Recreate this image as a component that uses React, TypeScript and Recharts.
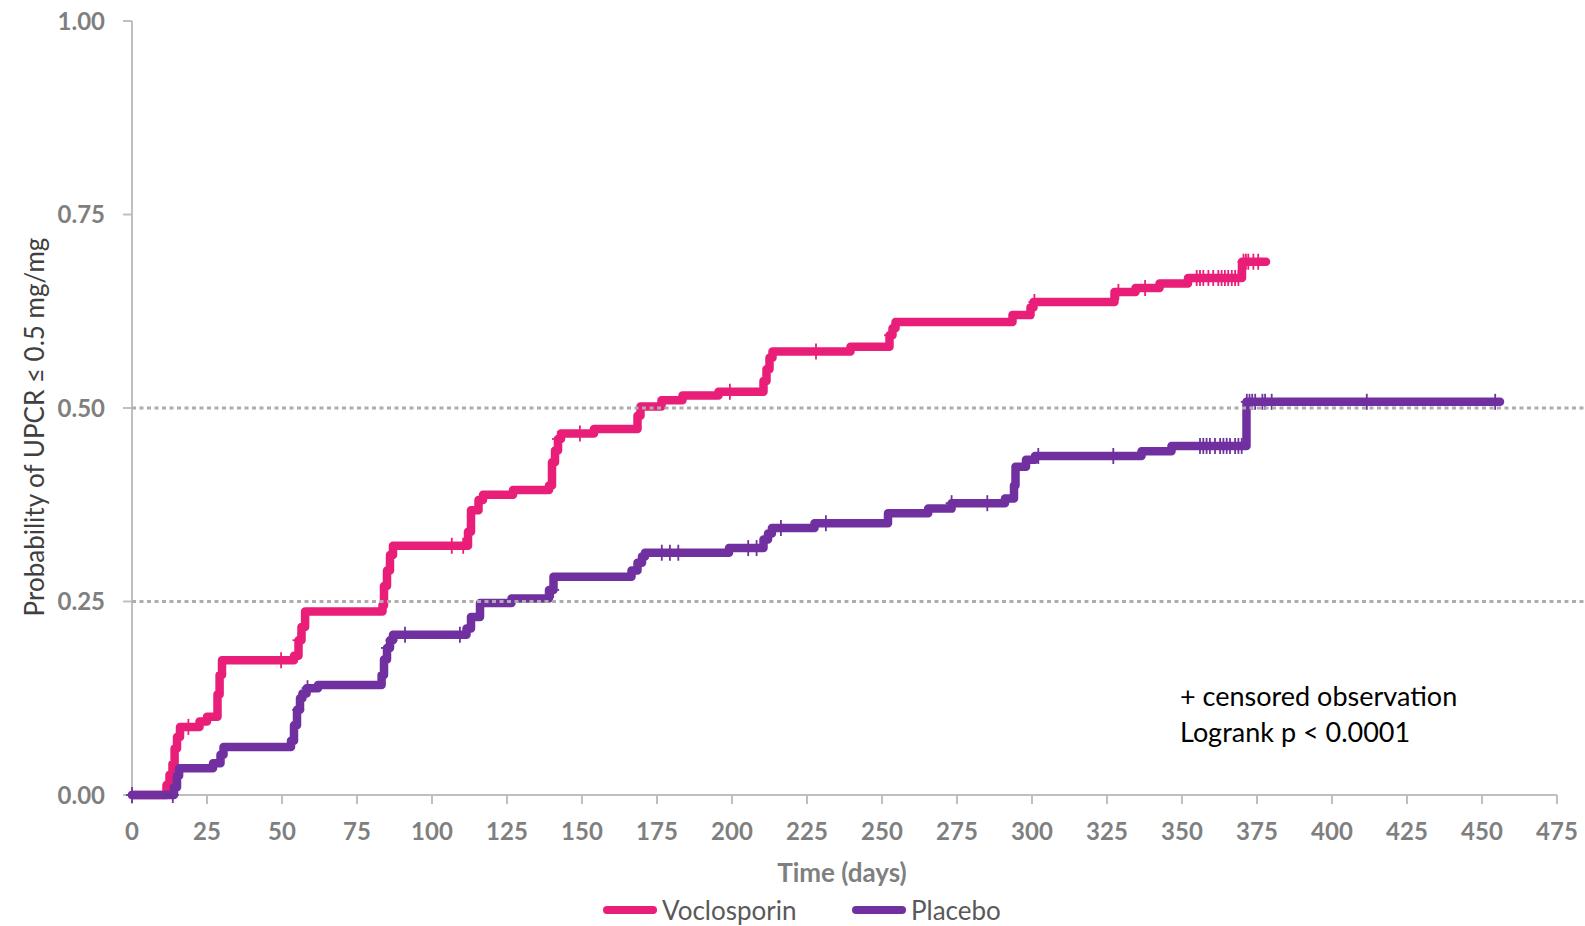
import React from 'react';
import { ComposedChart, Line, Scatter, XAxis, YAxis, ReferenceLine, Legend } from 'recharts';

// ---------- data ----------
const seriesNames = ['Voclosporin', 'Placebo'];

const voclosporinDays = [0, 11.5, 12.5, 13.5, 14.2, 15, 16, 22.5, 25, 28.5, 29.2, 30, 54, 55.5, 56.5, 57.7, 83.5, 84, 85, 86, 87, 112, 113, 115.5, 117, 127, 139, 140, 141, 142, 143, 154, 168.5, 169.5, 176.5, 183.5, 195.5, 210.5, 211.5, 212.5, 213.5, 239.5, 252.5, 253.5, 254.5, 293.5, 299.5, 300.5, 327.5, 334.5, 342.5, 352, 370, 378];
const voclosporinProb = [0, 0.013, 0.026, 0.04, 0.06, 0.075, 0.088, 0.095, 0.101, 0.13, 0.155, 0.174, 0.18, 0.2, 0.217, 0.237, 0.245, 0.27, 0.29, 0.31, 0.322, 0.34, 0.368, 0.381, 0.388, 0.394, 0.4, 0.43, 0.445, 0.46, 0.467, 0.473, 0.49, 0.502, 0.51, 0.516, 0.521, 0.535, 0.55, 0.565, 0.573, 0.579, 0.594, 0.603, 0.611, 0.62, 0.63, 0.637, 0.65, 0.655, 0.661, 0.668, 0.689, 0.689];

const placeboDays = [0, 14, 15, 15.7, 27, 29.5, 30.5, 53, 54, 55, 56, 56.8, 58.2, 62, 83.2, 84, 85, 86, 87, 111.5, 113, 116, 126.5, 139, 140.5, 166.5, 168.5, 170, 171, 199, 210.5, 212, 213.3, 227.5, 252, 265.4, 273.2, 291, 294, 294.5, 298, 301, 336.5, 346.5, 371.5, 456];
const placeboProb = [0, 0.01, 0.025, 0.0345, 0.041, 0.052, 0.062, 0.07, 0.09, 0.11, 0.125, 0.131, 0.138, 0.142, 0.155, 0.175, 0.19, 0.2, 0.207, 0.215, 0.23, 0.248, 0.254, 0.265, 0.282, 0.29, 0.3, 0.308, 0.313, 0.319, 0.33, 0.338, 0.345, 0.351, 0.364, 0.37, 0.377, 0.383, 0.4, 0.424, 0.433, 0.438, 0.444, 0.451, 0.508, 0.508];

const voclosporinCensorDays = [18.8, 49.7, 55.5, 106.6, 110.4, 142, 149.3, 199.3, 228, 252.7, 300.8, 328.8, 337.7, 354.9, 356, 357.1, 358.8, 360.4, 362.1, 363.2, 364.3, 365.4, 366.6, 367.7, 368.8, 370.5, 371.3, 372.1, 373.8, 375.4];
const placeboCensorDays = [0, 13.6, 55.4, 58.5, 85, 86.5, 91, 109.3, 140.4, 176.6, 179.3, 182.1, 205.4, 208.2, 216.3, 231.3, 273.2, 285.1, 302.1, 327.1, 356, 357.1, 358.2, 359.3, 361, 362.7, 363.8, 364.9, 366, 367.7, 368.8, 369.9, 371.6, 372.5, 373.4, 374.4, 376.8, 377.7, 379.9, 411.6, 454.4];

const xTicks = [0, 25, 50, 75, 100, 125, 150, 175, 200, 225, 250, 275, 300, 325, 350, 375, 400, 425, 450, 475];
const yTicks = [0, 0.25, 0.5, 0.75, 1];
const dottedLevels = [0.25, 0.5];

const xLabel = 'Time (days)';
const yLabel = 'Probability of UPCR ≤ 0.5 mg/mg';
const noteLines = ['+ censored observation', 'Logrank p < 0.0001'];

// ---------- helpers ----------
const toSteps = (days: number[], probs: number[]) => days.map((d, i) => ({ day: d, p: probs[i] }));
const stepValue = (days: number[], probs: number[], day: number) => {
  let v = probs[0];
  for (let i = 0; i < days.length; i++) {
    if (days[i] <= day) v = probs[i];
  }
  return v;
};
const toCensor = (cdays: number[], days: number[], probs: number[]) =>
  cdays.map((d) => ({ day: d, p: stepValue(days, probs, d) }));

const vocData = toSteps(voclosporinDays, voclosporinProb);
const plaData = toSteps(placeboDays, placeboProb);
const vocCensor = toCensor(voclosporinCensorDays, voclosporinDays, voclosporinProb);
const plaCensor = toCensor(placeboCensorDays, placeboDays, placeboProb);

// ---------- style ----------
const FONT = "Lato, 'Open Sans', sans-serif";
const COLORS = ['#E91E78', '#7030A0'];
const AXIS = '#BFBFBF';
const TICK_TEXT = '#7F7F7F';

const makeCross = (color: string) => (props: any) => {
  const { cx, cy } = props;
  if (cx == null || cy == null) return <g />;
  return (
    <g>
      <line x1={cx} x2={cx} y1={cy - 8} y2={cy + 8} stroke={color} strokeWidth={1.8} />
      <line x1={cx - 6} x2={cx + 6} y1={cy} y2={cy} stroke={color} strokeWidth={1.8} />
    </g>
  );
};

const renderLegend = () => (
  <div style={{ position: 'relative', width: 1585, height: 34, fontFamily: FONT }}>
    {seriesNames.map((name, i) => (
      <div
        key={name}
        style={{ position: 'absolute', left: i === 0 ? 603 : 852, top: 0, height: 34, display: 'flex', alignItems: 'center' }}
      >
        <span style={{ display: 'inline-block', width: 54, height: 8, borderRadius: 4, background: COLORS[i] }} />
        <span style={{ marginLeft: 5, fontSize: 26, color: '#595959', lineHeight: '34px' }}>{name}</span>
      </div>
    ))}
  </div>
);

export default function App() {
  return (
    <div style={{ position: 'absolute', left: 0, top: 0, width: 1585, height: 926, background: '#fff' }}>
      <ComposedChart width={1585} height={926} margin={{ top: 21, right: 28, bottom: 71, left: 0 }}>
        <XAxis
          dataKey="day"
          type="number"
          domain={[0, 475]}
          ticks={xTicks}
          interval={0}
          height={60}
          axisLine={{ stroke: AXIS, strokeWidth: 2 }}
          tickLine={{ stroke: AXIS, strokeWidth: 2 }}
          tickSize={9}
          tickMargin={19}
          tick={{ fill: TICK_TEXT, fontSize: 24, fontWeight: 700, fontFamily: FONT }}
          label={() => (
            <text x={842} y={872} textAnchor="middle" dominantBaseline="central" fill={TICK_TEXT} fontSize={26} fontWeight={700} fontFamily={FONT}>
              {xLabel}
            </text>
          )}
        />
        <YAxis
          dataKey="p"
          type="number"
          domain={[0, 1]}
          ticks={yTicks}
          interval={0}
          width={132}
          axisLine={{ stroke: AXIS, strokeWidth: 2 }}
          tickLine={{ stroke: AXIS, strokeWidth: 2 }}
          tickSize={9}
          tickMargin={18}
          tickFormatter={(v: number) => v.toFixed(2)}
          tick={{ fill: TICK_TEXT, fontSize: 24, fontWeight: 700, fontFamily: FONT }}
          label={() => (
            <text
              x={34}
              y={427}
              transform="rotate(-90 34 427)"
              textAnchor="middle"
              dominantBaseline="central"
              fill="#404040"
              fontSize={26}
              fontFamily={FONT}
            >
              {yLabel}
            </text>
          )}
        />
        <Legend verticalAlign="middle" align="center" layout="horizontal" content={renderLegend} wrapperStyle={{ left: 0, top: 893, width: 1585, height: 34 }} />
        <Line
          data={vocData}
          dataKey="p"
          name={seriesNames[0]}
          type="stepAfter"
          stroke={COLORS[0]}
          strokeWidth={8.5}
          strokeLinejoin="round"
          strokeLinecap="round"
          dot={false}
          activeDot={false}
          isAnimationActive={false}
          legendType="line"
          zIndex={550}
        />
        <Line
          data={plaData}
          dataKey="p"
          name={seriesNames[1]}
          type="stepAfter"
          stroke={COLORS[1]}
          strokeWidth={8.5}
          strokeLinejoin="round"
          strokeLinecap="round"
          dot={false}
          activeDot={false}
          isAnimationActive={false}
          legendType="line"
          zIndex={560}
        />
        <Scatter data={vocCensor} dataKey="p" shape={makeCross(COLORS[0])} isAnimationActive={false} legendType="none" zIndex={600} />
        <Scatter data={plaCensor} dataKey="p" shape={makeCross(COLORS[1])} isAnimationActive={false} legendType="none" zIndex={610} />
        {dottedLevels.map((lv) => (
          <ReferenceLine
            key={lv}
            segment={[{ x: 0, y: lv }, { x: 484.5, y: lv }]}
            ifOverflow="visible"
            stroke="#ADADAD"
            strokeWidth={3}
            strokeDasharray="4 3.5"
            zIndex={650}
          />
        ))}
      </ComposedChart>
      <div
        style={{
          position: 'absolute',
          left: 1180,
          top: 678,
          fontFamily: FONT,
          fontSize: 27,
          lineHeight: '35.5px',
          color: '#000',
          whiteSpace: 'nowrap',
        }}
      >
        {noteLines.map((t) => (
          <div key={t}>{t}</div>
        ))}
      </div>
    </div>
  );
}
